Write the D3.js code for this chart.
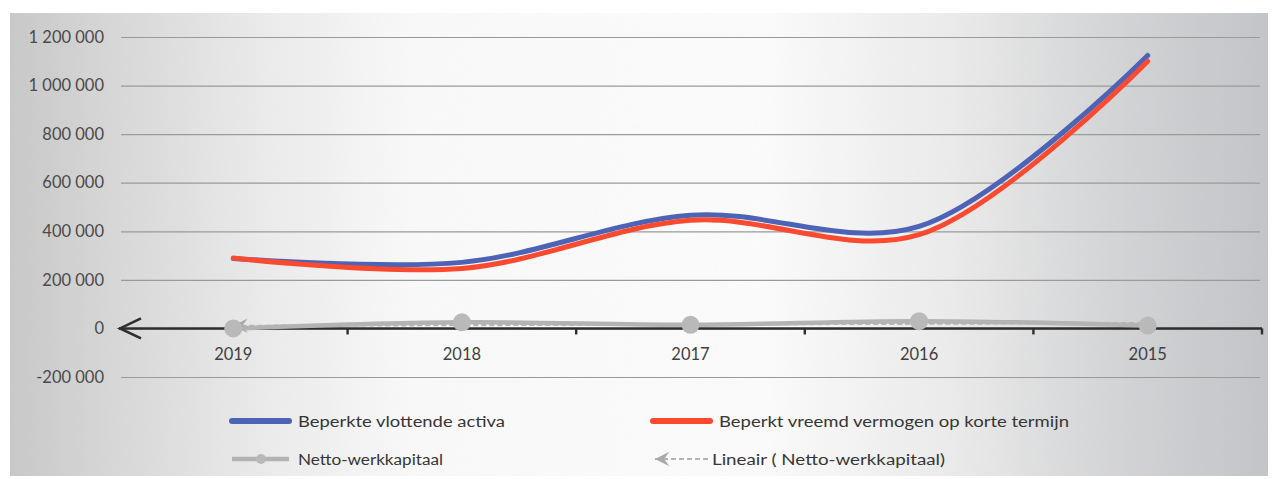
<!DOCTYPE html>
<html>
<head>
<meta charset="utf-8">
<script src="https://cdn.jsdelivr.net/npm/d3@7"></script>
<style>
  html, body { margin: 0; padding: 0; background: #ffffff; }
  svg { display: block; }
  text { font-family: Lato, "Open Sans", sans-serif; }
</style>
</head>
<body>
<svg id="chart" width="1273" height="479"></svg>
<script>
// ---- data ----
const years = ["2019", "2018", "2017", "2016", "2015"];
const vlottendeActiva = [288000, 272000, 466000, 420000, 1124000];
const vreemdVermogen = [290000, 247000, 445000, 386000, 1100000];
const nettoWerkkapitaal = [0, 25000, 15000, 30000, 12000];
const yTicks = [-200000, 0, 200000, 400000, 600000, 800000, 1000000, 1200000];
const legendLabels = [
  "Beperkte vlottende activa",
  "Beperkt vreemd vermogen op korte termijn",
  "Netto-werkkapitaal",
  "Lineair ( Netto-werkkapitaal)"
];

// ---- layout ----
const svg = d3.select("#chart");
const plot = { left: 119, right: 1262, top: 37, bottom: 377 };

const defs = svg.append("defs");
const grad = defs.append("linearGradient").attr("id", "bg").attr("x1", 0).attr("x2", 1).attr("y1", 0).attr("y2", 0);
[[0, "#c9c9c9"], [0.08, "#d8d8d8"], [0.2, "#ececec"], [0.32, "#fbfbfb"], [0.6, "#fdfdfd"],
 [0.75, "#ececec"], [0.88, "#d4d5d7"], [1, "#c3c5c8"]].forEach(([o, c]) =>
  grad.append("stop").attr("offset", o).attr("stop-color", c));

const grain = defs.append("filter").attr("id", "grain").attr("x", 0).attr("y", 0).attr("width", "100%").attr("height", "100%");
grain.append("feTurbulence").attr("type", "fractalNoise").attr("baseFrequency", 0.9).attr("numOctaves", 2).attr("seed", 3).attr("result", "n");
grain.append("feColorMatrix").attr("in", "n").attr("type", "matrix")
  .attr("values", "0 0 0 0 0.5  0 0 0 0 0.5  0 0 0 0 0.5  0 0 0 0.10 0").attr("result", "g");
grain.append("feComposite").attr("in", "g").attr("in2", "SourceGraphic").attr("operator", "in").attr("result", "gi");
grain.append("feMerge").selectAll("feMergeNode").data(["SourceGraphic", "gi"]).enter()
  .append("feMergeNode").attr("in", d => d);

svg.append("rect").attr("x", 10).attr("y", 13).attr("width", 1258).attr("height", 463)
  .attr("fill", "url(#bg)").attr("filter", "url(#grain)");

// ---- scales ----
const x = d3.scaleBand().domain(years).range([plot.left, plot.right]).padding(0);
const y = d3.scaleLinear().domain([-200000, 1200000]).range([plot.bottom, plot.top]);
const cx = d => x(d) + x.bandwidth() / 2;

// ---- grid + y labels ----
const fmt = v => d3.format(",")(v).replace(/,/g, " ").replace("−", "-");
const yAxis = svg.append("g").attr("transform", `translate(${plot.left + 2},0)`)
  .call(d3.axisLeft(y).tickValues(yTicks).tickSize(-(plot.right - plot.left - 4)).tickPadding(17).tickFormat(fmt));
yAxis.select(".domain").remove();
yAxis.selectAll(".tick line").attr("stroke", "#9a9a9a").attr("stroke-width", 1.2);
yAxis.selectAll(".tick text").attr("fill", "#4a4a4a").attr("font-size", 16.5);

// ---- x axis ----
const y0 = y(0);
const xAxis = svg.append("g").attr("transform", `translate(0,${y0})`)
  .call(d3.axisBottom(x).tickSize(0).tickPadding(20));
xAxis.select(".domain").attr("stroke", "#2e2e2e").attr("stroke-width", 2.4)
  .attr("d", `M${plot.left},0H${plot.right}`);
xAxis.selectAll(".tick text").attr("fill", "#404040").attr("font-size", 16.5);
svg.append("g").selectAll("line").data(years).enter().append("line")
  .attr("x1", d => x(d) + x.bandwidth()).attr("x2", d => x(d) + x.bandwidth())
  .attr("y1", y0).attr("y2", y0 + 6).attr("stroke", "#2e2e2e").attr("stroke-width", 2.4);
// arrowhead on left end of axis
svg.append("path")
  .attr("d", `M${plot.left + 22},${y0 - 10} L${plot.left + 1},${y0} L${plot.left + 22},${y0 + 10}`)
  .attr("fill", "none").attr("stroke", "#2e2e2e").attr("stroke-width", 2.6).attr("stroke-linejoin", "miter");

// ---- series ----
const curve = d3.curveCatmullRom.alpha(0.5);
const line = d3.line().x((d, i) => cx(years[i])).y(d => y(d)).curve(curve);

// trendline (least squares on netto-werkkapitaal)
const n = nettoWerkkapitaal.length;
const xs = d3.range(1, n + 1);
const mx = d3.mean(xs), my = d3.mean(nettoWerkkapitaal);
const slope = d3.sum(xs, (v, i) => (v - mx) * (nettoWerkkapitaal[i] - my)) / d3.sum(xs, v => (v - mx) ** 2);
const icpt = my - slope * mx;
const trend = xs.map(v => icpt + slope * v);

// arrow pointing backwards (left) at the start of the trend line
defs.append("marker").attr("id", "tarrow").attr("viewBox", "0 0 20 20").attr("refX", 2).attr("refY", 10)
  .attr("markerWidth", 18).attr("markerHeight", 18).attr("markerUnits", "userSpaceOnUse").attr("orient", "auto")
  .append("path").attr("d", "M18,2 L2,10 L18,18 L12,10 Z").attr("fill", "#a8a8a8");

svg.append("path").datum(trend)
  .attr("d", d3.line().x((d, i) => cx(years[i])).y(d => y(d)))
  .attr("fill", "none").attr("stroke", "#b4b4b4").attr("stroke-width", 2.2).attr("stroke-dasharray", "5,3")
  .attr("marker-start", "url(#tarrow)");

svg.append("path").datum(nettoWerkkapitaal).attr("d", line)
  .attr("fill", "none").attr("stroke", "#b3b3b3").attr("stroke-width", 4.5).attr("stroke-linecap", "round");
svg.append("g").selectAll("circle").data(nettoWerkkapitaal).enter().append("circle")
  .attr("cx", (d, i) => cx(years[i])).attr("cy", d => y(d)).attr("r", 9)
  .attr("fill", "#b9b9b9");

svg.append("path").datum(vlottendeActiva).attr("d", line)
  .attr("fill", "none").attr("stroke", "#4c63b6").attr("stroke-width", 5).attr("stroke-linecap", "round");
svg.append("path").datum(vreemdVermogen).attr("d", line)
  .attr("fill", "none").attr("stroke", "#fb4a30").attr("stroke-width", 5).attr("stroke-linecap", "round");

// ---- legend ----
const lg = svg.append("g");
const legendItems = [
  { x: 232, y: 421, label: legendLabels[0], type: "line", color: "#4c63b6", tw: 207 },
  { x: 653, y: 421, label: legendLabels[1], type: "line", color: "#fb4a30", tw: 350 },
  { x: 232, y: 459, label: legendLabels[2], type: "marker", color: "#b3b3b3", tw: 145 },
  { x: 653, y: 459, label: legendLabels[3], type: "trend", color: "#b4b4b4", tw: 233 }
];
legendItems.forEach(it => {
  const g = lg.append("g");
  if (it.type === "line") {
    g.append("line").attr("x1", it.x).attr("x2", it.x + 57).attr("y1", it.y).attr("y2", it.y)
      .attr("stroke", it.color).attr("stroke-width", 6).attr("stroke-linecap", "round");
  } else if (it.type === "marker") {
    g.append("line").attr("x1", it.x).attr("x2", it.x + 57).attr("y1", it.y).attr("y2", it.y)
      .attr("stroke", it.color).attr("stroke-width", 4.5);
    g.append("circle").attr("cx", it.x + 29).attr("cy", it.y).attr("r", 5).attr("fill", "#b9b9b9");
  } else {
    g.append("line").attr("x1", it.x + 2).attr("x2", it.x + 55).attr("y1", it.y).attr("y2", it.y)
      .attr("stroke", it.color).attr("stroke-width", 2.2).attr("stroke-dasharray", "5,3")
      .attr("marker-start", "url(#tarrow)");
  }
  const tx = it.type === "trend" ? it.x + 59 : it.x + 66;
  g.append("text").attr("x", tx).attr("y", it.y + 6).attr("font-size", 15.5).attr("fill", "#363636")
    .attr("textLength", it.tw).attr("lengthAdjust", "spacingAndGlyphs").text(it.label);
});
</script>
</body>
</html>
